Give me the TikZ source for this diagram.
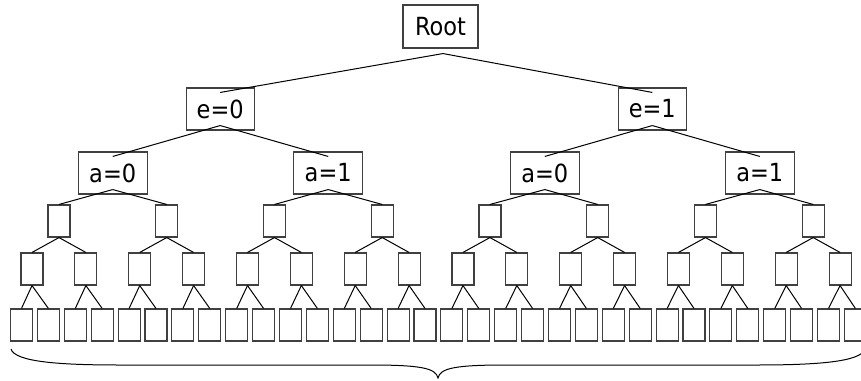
\documentclass[tikz,border=0pt]{standalone}
\usepackage{fontspec}
\setmainfont{DejaVu Sans}[FakeStretch=0.9]

\tikzset{
  box/.style={draw=black!75, line width=1.1pt, rectangle, inner sep=0pt,
    font=\fontsize{25}{30}\selectfont},
  smallbox/.style={draw=black!75, line width=1.1pt, rectangle, inner sep=0pt,
    minimum width=22pt, minimum height=32pt},
  edge/.style={line width=1pt}
}

\begin{document}
\begin{tikzpicture}[x=1pt,y=-1pt]

    \useasboundingbox (0,0) rectangle (861,380);

    % Root and the two labelled levels
    \node[box, minimum width=75pt, minimum height=43pt] (root) at (440.5,26.5) {Root};
    \node[box, minimum width=68pt, minimum height=42pt] (e0) at (220.2,109) {e=0};
    \node[box, minimum width=68pt, minimum height=42pt] (e1) at (652.3,109) {e=1};

    \node[box, minimum width=69pt, minimum height=42pt] (a0) at (112.7,173) {a=0};
    \node[box, minimum width=69pt, minimum height=42pt] (a1) at (328.2,173) {a=1};
    \node[box, minimum width=69pt, minimum height=42pt] (a2) at (544.8,173) {a=0};
    \node[box, minimum width=69pt, minimum height=42pt] (a3) at (759.8,173) {a=1};

    % empty boxes, three levels
    \foreach \i in {0,...,7}
        \node[smallbox] (c\i) at ({59+107.74*\i},221) {};
    \foreach \i in {0,...,15}
        \node[smallbox] (d\i) at ({32+53.87*\i},269) {};
    \foreach \i in {0,...,31}
        \node[smallbox] (l\i) at ({21.5+26.9*\i},325) {};

    % Root -> e
    \draw[edge] ([xshift=2.5pt,yshift=-5pt]root.south) -- ([yshift=-5pt]e0.north);
    \draw[edge] ([xshift=2.5pt,yshift=-5pt]root.south) -- ([yshift=-5pt]e1.north);

    % e -> a
    \draw[edge] ([yshift=5pt]e0.south) -- ([yshift=-5pt]a0.north);
    \draw[edge] ([yshift=5pt]e0.south) -- ([yshift=-5pt]a1.north);
    \draw[edge] ([yshift=5pt]e1.south) -- ([yshift=-5pt]a2.north);
    \draw[edge] ([yshift=5pt]e1.south) -- ([yshift=-5pt]a3.north);

    % a -> first empty level
    \foreach \i in {0,...,3} {
        \pgfmathtruncatemacro\j{2*\i}
        \pgfmathtruncatemacro\k{2*\i+1}
        \draw[edge] ([yshift=5pt]a\i.south) -- (c\j.north);
        \draw[edge] ([yshift=5pt]a\i.south) -- (c\k.north);
    }

    % empty levels
    \foreach \i in {0,...,7} {
        \pgfmathtruncatemacro\j{2*\i}
        \pgfmathtruncatemacro\k{2*\i+1}
        \draw[edge] (c\i.south) -- (d\j.north);
        \draw[edge] (c\i.south) -- (d\k.north);
    }
    \foreach \i in {0,...,15} {
        \pgfmathtruncatemacro\j{2*\i}
        \pgfmathtruncatemacro\k{2*\i+1}
        \draw[edge] (d\i.south) -- (l\j.north);
        \draw[edge] (d\i.south) -- (l\k.north);
    }

    % brace under the leaves
    \coordinate (bl) at (11,349);
    \coordinate (bt) at (438,378);
    \coordinate (br) at (865,349);
    \draw[edge] (bl) .. controls (15,362) and (60,365) .. (120,365) -- (370,365)
        .. controls (420,365) and (436,368) .. (bt)
        .. controls (440,368) and (456,365) .. (506,365) -- (756,365)
        .. controls (816,365) and (861,362) .. (br);

\end{tikzpicture}
\end{document}
